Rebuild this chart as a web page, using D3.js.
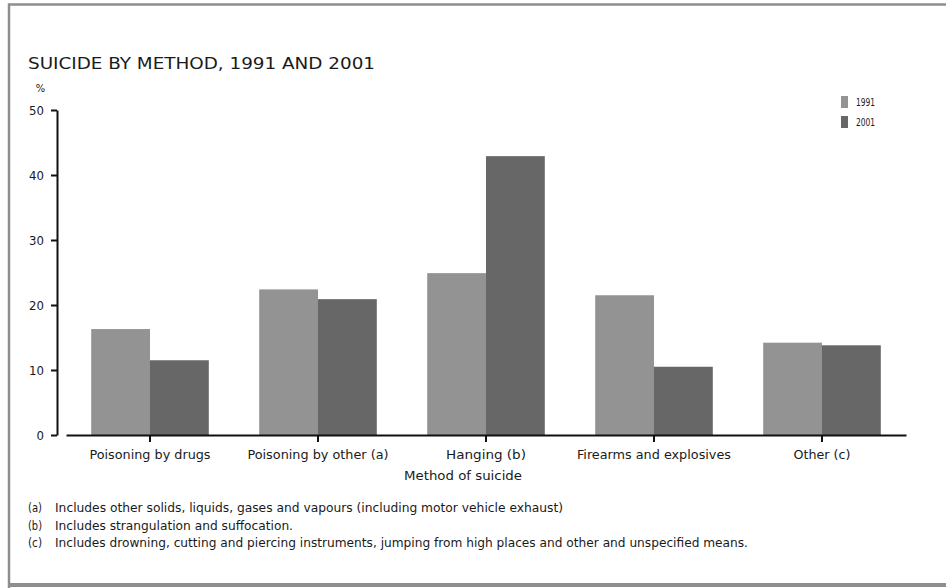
<!DOCTYPE html>
<html>
<head>
<meta charset="utf-8">
<script src="https://cdn.jsdelivr.net/npm/d3@7"></script>
<style>
  body { margin: 0; background: #fff; }
  svg text { font-family: "Liberation Sans Narrow", "DejaVu Sans Condensed", "Arial Narrow", sans-serif; fill: #1a1a1a; }
</style>
</head>
<body>
<svg id="chart" width="946" height="588"></svg>
<script>
// data
const methods = ["Poisoning by drugs", "Poisoning by other (a)", "Hanging (b)", "Firearms and explosives", "Other (c)"];
const years = ["1991", "2001"];
const values1991 = [16.3, 22.4, 24.9, 21.5, 14.2];
const values2001 = [11.5, 20.9, 42.9, 10.5, 13.8];
const yTicks = [0, 10, 20, 30, 40, 50];
const footnotes = [
  ["(a)", "Includes other solids, liquids, gases and vapours (including motor vehicle exhaust)"],
  ["(b)", "Includes strangulation and suffocation."],
  ["(c)", "Includes drowning, cutting and piercing instruments, jumping from high places and other and unspecified means."]
];
const colors = ["#939393", "#676767"];

// measured text widths in the reference, so the narrow face lines up
const labelWidths = [121, 141, 80, 154, 57];
const noteWidths = [508, 238, 693];

const svg = d3.select("#chart");

// frame
svg.append("path")
  .attr("d", "M9,588 V4.5 H946")
  .attr("fill", "none").attr("stroke", "#8e8e8e").attr("stroke-width", 2.5);
svg.append("line")
  .attr("x1", 9).attr("x2", 946).attr("y1", 585).attr("y2", 585)
  .attr("stroke", "#8e8e8e").attr("stroke-width", 4);

// title
svg.append("text")
  .attr("x", 28).attr("y", 68.5)
  .attr("font-size", 16)
  .attr("textLength", 347).attr("lengthAdjust", "spacingAndGlyphs")
  .text("SUICIDE BY METHOD, 1991 AND 2001");

svg.append("text")
  .attr("x", 40.5).attr("y", 92)
  .attr("text-anchor", "middle")
  .attr("font-size", 11)
  .text("%");

const y = d3.scaleLinear().domain([0, 50]).range([435, 110]);
const x = d3.scaleBand().domain(methods).range([66, 906]).paddingInner(0.3).paddingOuter(0.15);
const xSub = d3.scaleBand().domain(years).range([0, x.bandwidth()]);

// bars
const groups = svg.append("g").selectAll("g")
  .data(methods)
  .join("g")
  .attr("transform", d => `translate(${x(d)},0)`);

groups.selectAll("rect")
  .data((d, i) => [values1991[i], values2001[i]].map((v, j) => ({ year: years[j], v: v })))
  .join("rect")
  .attr("x", d => xSub(d.year))
  .attr("width", xSub.bandwidth())
  .attr("y", d => y(d.v))
  .attr("height", d => y(0) - y(d.v))
  .attr("fill", (d, j) => colors[j]);

// y axis
const yAxis = svg.append("g")
  .attr("transform", "translate(57,0)")
  .call(d3.axisLeft(y).tickValues(yTicks).tickSizeInner(6).tickSizeOuter(0).tickPadding(7));
yAxis.select(".domain").attr("stroke", "#111").attr("stroke-width", 2);
yAxis.selectAll(".tick line").attr("stroke", "#111").attr("stroke-width", 2);
yAxis.selectAll(".tick text").attr("font-size", 13).attr("font-family", null).attr("fill", "#1a1a1a");

// x axis
const xAxis = svg.append("g")
  .attr("transform", "translate(0,435)")
  .call(d3.axisBottom(x).tickSizeInner(7).tickSizeOuter(0).tickPadding(8));
xAxis.select(".domain").attr("stroke", "#111").attr("stroke-width", 2);
xAxis.selectAll(".tick line").attr("stroke", "#111").attr("stroke-width", 2);
xAxis.selectAll(".tick text")
  .attr("font-size", 13).attr("font-family", null).attr("fill", "#1a1a1a")
  .attr("textLength", (d, i) => labelWidths[i]).attr("lengthAdjust", "spacingAndGlyphs");

svg.append("text")
  .attr("x", 463).attr("y", 480)
  .attr("text-anchor", "middle")
  .attr("font-size", 13)
  .attr("textLength", 118).attr("lengthAdjust", "spacingAndGlyphs")
  .text("Method of suicide");

// legend
const legend = svg.append("g").selectAll("g")
  .data(years)
  .join("g")
  .attr("transform", (d, i) => `translate(841,${96 + i * 20})`);
legend.append("rect").attr("width", 7).attr("height", 12).attr("fill", (d, i) => colors[i]);
legend.append("text").attr("x", 15).attr("y", 10).attr("font-size", 10)
  .attr("textLength", 19).attr("lengthAdjust", "spacingAndGlyphs")
  .text(d => d);

// footnotes
const notes = svg.append("g").selectAll("g")
  .data(footnotes)
  .join("g")
  .attr("transform", (d, i) => `translate(28,${512 + i * 17.5})`);
notes.append("text").attr("font-size", 11.5)
  .attr("textLength", 14).attr("lengthAdjust", "spacingAndGlyphs")
  .text(d => d[0]);
notes.append("text").attr("x", 27).attr("font-size", 11.5)
  .attr("textLength", (d, i) => noteWidths[i]).attr("lengthAdjust", "spacingAndGlyphs")
  .text(d => d[1]);
</script>
</body>
</html>
